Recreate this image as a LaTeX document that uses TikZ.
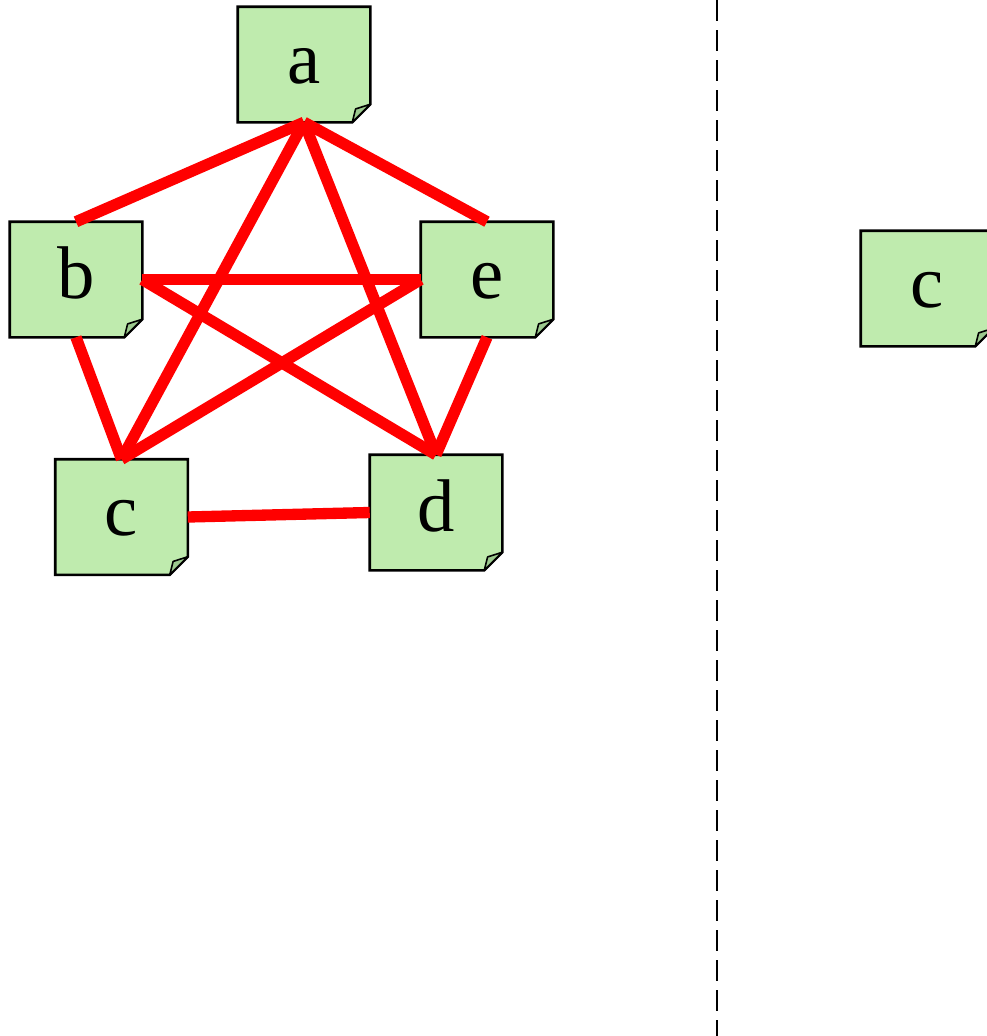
\documentclass[tikz,border=0pt]{standalone}
\usepackage{fontspec}
\setmainfont{Liberation Serif}
\usetikzlibrary{backgrounds}
\definecolor{notefill}{HTML}{BFEBAE}
\definecolor{foldfill}{HTML}{9CC98E}
\begin{document}
\begin{tikzpicture}[x=0.75pt,y=-0.75pt,
  notebox/.style={rectangle, inner sep=0pt, minimum width=99pt, minimum height=86.25pt, text height=40pt, text depth=12.2pt, font=\fontsize{56}{60}\selectfont},
  edge/.style={draw=red, line width=8.5pt},
  outline/.style={draw=black, line width=1.9pt, fill=notefill, line join=miter},
  foldpart/.style={draw=black, line width=1.2pt, fill=foldfill, line join=round},
  divider/.style={draw=black, line width=1.6pt, dash pattern=on 15.5pt off 7pt}]
\useasboundingbox (0,0) rectangle (986,1036);
\clip (0,0) rectangle (986,1036);
\node[notebox] (a) at (304,64.5) {a};
\node[notebox] (b) at (76,279.5) {b};
\node[notebox] (e) at (487,279.5) {e};
\node[notebox] (c) at (121.5,517) {c};
\node[notebox] (d) at (436,512.5) {d};
\node[notebox] (c2) at (927,288.5) {c};
\begin{pgfonlayer}{background}
\foreach \n in {a,b,c,d,e,c2}{
  \draw[outline] (\n.north west) -- (\n.north east) -- ([yshift=13.5pt]\n.south east) -- ([xshift=-13.5pt]\n.south east) -- (\n.south west) -- cycle;
  \draw[foldpart] ([yshift=13.5pt]\n.south east) -- ([xshift=-13.5pt]\n.south east) -- ([shift={(-11pt,10pt)}]\n.south east) -- cycle;
}
\end{pgfonlayer}
\draw[edge] (a.south) -- (b.north);
\draw[edge] (a.south) -- (e.north);
\draw[edge] (a.south) -- (c.north);
\draw[edge] (a.south) -- (d.north);
\draw[edge] (b.east) -- (e.west);
\draw[edge] (b.east) -- (d.north);
\draw[edge] (e.west) -- (c.north);
\draw[edge] (b.south) -- (c.north);
\draw[edge] (e.south) -- (d.north);
\draw[edge] (c.east) -- (d.west);
\coordinate (divtop) at (717,0);
\coordinate (divbot) at (717,1036);
\draw[divider] (divtop) -- (divbot);
\end{tikzpicture}
\end{document}
